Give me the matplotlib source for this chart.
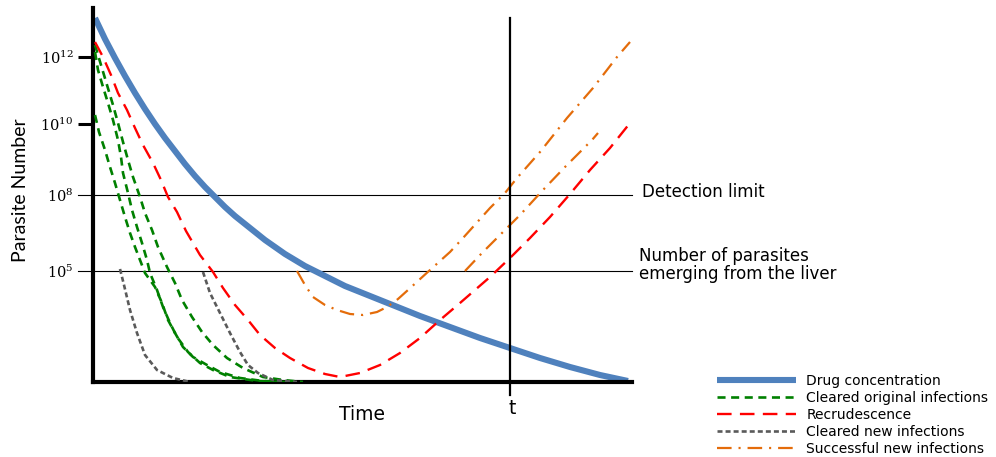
import matplotlib
matplotlib.use("Agg")
import matplotlib.pyplot as plt

plt.rcParams["lines.scale_dashes"] = False
plt.rcParams["mathtext.fontset"] = "dejavuserif"

# Schematic axes: time in arbitrary units, parasite number on a schematic log position scale
tick_pos = [32.5, 25.8, 18.7, 11.1]
tick_labels = [r"$10^{12}$", r"$10^{10}$", r"$10^{8}$", r"$10^{5}$"]
detection_limit = 18.7
liver_emergence = 11.1
t_mark = 41.7

drug_t = [0.2, 1.2, 2.2, 3.2, 4.2, 5.2, 6.2, 7.2, 8.2, 9.2, 10.2, 11.2, 12.2, 13.2, 14.2, 15.2, 16.2, 17.2, 18.2,
          19.2, 20.2, 21.2, 22.2, 23.2, 24.2, 25.2, 26.2, 27.2, 28.2, 29.7, 32.7, 35.7, 38.7, 41.7, 44.7, 47.7,
          50.7, 53.5]
drug_y = [36.4, 34.3, 32.4, 30.6, 28.9, 27.3, 25.8, 24.4, 23.1, 21.8, 20.6, 19.5, 18.5, 17.5, 16.6, 15.8, 15.0,
          14.2, 13.5, 12.8, 12.2, 11.6, 11.1, 10.6, 10.1, 9.6, 9.2, 8.8, 8.4, 7.8, 6.6, 5.5, 4.4, 3.4, 2.4, 1.5,
          0.7, 0.1]

orig1_t = [0.2, 0.6, 1.2, 1.7, 2.2, 2.7, 3.2, 3.7, 4.2, 4.7, 5.2, 6.2, 6.9, 7.5, 8.2, 9.0, 10.0, 11.4, 12.7, 14.7, 17.0, 19.4]
orig1_y = [26.7, 25.0, 23.2, 21.5, 19.9, 18.2, 16.5, 14.9, 13.5, 12.2, 10.9, 9.5, 7.9, 6.2, 4.9, 3.5, 2.5, 1.7, 1.0, 0.4, 0.1, 0.0]

orig2_t = [0.2, 0.5, 1.0, 1.5, 2.0, 2.5, 2.8, 3.0, 3.5, 3.9, 4.4, 4.9, 5.4, 5.7, 6.4, 7.0, 7.7, 8.4, 9.5, 10.7, 12.0, 13.7, 16.4, 19.2]
orig2_y = [33.0, 31.2, 29.5, 27.9, 26.2, 24.2, 22.5, 20.9, 18.9, 17.2, 15.5, 13.9, 12.2, 10.9, 9.2, 7.5, 5.9, 4.5, 3.0, 1.9, 1.2, 0.5, 0.1, 0.0]

orig3_t = [0.2, 0.8, 1.4, 2.0, 2.5, 3.0, 3.5, 4.0, 4.7, 5.2, 5.9, 6.5, 7.4, 8.2, 8.9, 9.9, 10.9, 12.0, 13.4, 15.0, 17.0, 19.0, 21.0]
orig3_y = [33.7, 31.7, 29.7, 27.7, 25.9, 24.0, 22.2, 20.5, 18.5, 16.9, 15.2, 13.5, 11.5, 9.9, 8.2, 6.5, 5.0, 3.7, 2.4, 1.4, 0.5, 0.2, 0.0]

recr_t = [0.2, 1.0, 1.8, 2.5, 3.4, 4.2, 5.0, 6.0, 6.8, 7.5, 8.4, 9.3, 10.7, 12.0, 13.0, 14.2, 15.5, 16.7, 18.2,
          19.7, 21.5, 23.2, 24.7, 26.7, 28.7, 30.7, 32.7, 34.7, 36.7, 39.7, 41.7, 43.7, 45.7, 47.7, 49.7, 51.7, 53.7]
recr_y = [34.0, 32.5, 30.7, 28.9, 27.2, 25.4, 23.7, 21.9, 20.2, 18.5, 17.0, 15.1, 12.7, 11.0, 9.4, 7.7, 6.2, 4.7, 3.4,
          2.4, 1.4, 0.8, 0.5, 0.9, 1.7, 2.9, 4.4, 6.2, 7.9, 10.5, 12.4, 14.4, 16.5, 18.8, 21.2, 23.4, 25.9]

new1_t = [2.7, 3.1, 3.7, 4.4, 5.2, 6.4, 8.0, 9.7]
new1_y = [11.3, 9.7, 7.2, 4.9, 2.7, 1.2, 0.4, 0.0]

new2_t = [11.0, 11.7, 12.7, 13.7, 14.7, 15.5, 16.5, 18.0, 20.4]
new2_y = [11.0, 8.9, 6.9, 4.9, 3.0, 1.7, 0.9, 0.2, 0.0]

succ1_t = [20.4, 21.2, 22.0, 23.2, 24.4, 25.7, 27.0, 28.4, 29.4, 30.5, 31.5, 33.7, 35.7, 37.0, 39.7, 41.2, 42.4, 44.7, 47.4, 50.0, 52.4, 53.7]
succ1_y = [11.1, 9.7, 8.5, 7.7, 7.2, 6.8, 6.7, 7.0, 7.5, 8.3, 9.2, 11.2, 13.0, 14.4, 17.4, 18.9, 20.4, 23.0, 26.4, 29.4, 32.5, 34.0]

succ2_t = [37.2, 38.9, 40.7, 42.7, 45.0, 47.2, 49.9, 50.5]
succ2_y = [11.1, 12.9, 14.7, 16.7, 19.2, 21.5, 24.2, 24.9]

blue = "#4F81BD"
green = "#008000"
red = "#FF0000"
grey = "#5A5A5A"
orange = "#E46C0A"

fig = plt.figure(figsize=(9.96, 4.57), dpi=100)
ax = fig.add_axes([93 / 996, 75 / 457, 539 / 996, 374 / 457])
ax.set_xlim(0, 53.9)
ax.set_ylim(0, 37.4)

# reference levels and the time marker
for lvl in (detection_limit, liver_emergence):
    ax.plot([-1.5, 53.9], [lvl, lvl], color="black", lw=0.8, clip_on=False, zorder=1)
ax.plot([t_mark, t_mark], [-1.3, 36.4], color="black", lw=1.6, clip_on=False, zorder=6)

h_drug, = ax.plot(drug_t, drug_y, color=blue, lw=4.4, solid_capstyle="butt",
                  solid_joinstyle="round", zorder=2, label="Drug concentration")
h_orig = None
for tt, yy in ((orig1_t, orig1_y), (orig2_t, orig2_y), (orig3_t, orig3_y)):
    h_orig, = ax.plot(tt, yy, color=green, lw=1.9, dashes=(5.8, 4.0), zorder=3,
                      label="Cleared original infections")
h_recr, = ax.plot(recr_t, recr_y, color=red, lw=1.7, dashes=(10.5, 6.0), zorder=4,
                  label="Recrudescence")
h_new = None
for tt, yy in ((new1_t, new1_y), (new2_t, new2_y)):
    h_new, = ax.plot(tt, yy, color=grey, lw=1.9, dashes=(3.6, 2.2), zorder=3,
                     label="Cleared new infections")
h_succ = None
for tt, yy in ((succ1_t, succ1_y), (succ2_t, succ2_y)):
    h_succ, = ax.plot(tt, yy, color=orange, lw=1.6, dashes=(10.5, 5.0, 1.5, 5.0), zorder=4,
                      label="Successful new infections")

for side in ("top", "right"):
    ax.spines[side].set_visible(False)
for side in ("left", "bottom"):
    ax.spines[side].set_linewidth(3.0)
    ax.spines[side].set_color("black")
    ax.spines[side].set_capstyle("projecting")

ax.set_xticks([])
ax.set_yticks(tick_pos)
ax.set_yticklabels(tick_labels, fontsize=10.5)
ax.tick_params(axis="y", length=11, width=2.2, pad=3, color="black")
for i, tk in enumerate(ax.yaxis.get_major_ticks()):
    if i >= 2:
        tk.tick1line.set_visible(False)

fig.text(20 / 996, 1 - 190 / 457, "Parasite Number", rotation=90, ha="center", va="center",
         fontsize=14, family="Lato")
fig.text(362 / 996, 1 - 414 / 457, "Time", ha="center", va="center", fontsize=13.5,
         family="DejaVu Sans")
fig.text(512 / 996, 1 - 409 / 457, "t", ha="center", va="center", fontsize=13.5,
         family="DejaVu Sans")

fig.text(642 / 996, 1 - 192 / 457, "Detection limit", ha="left", va="center",
         fontsize=12, family="DejaVu Sans")
fig.text(639 / 996, 1 - 265 / 457, "Number of parasites\nemerging from the liver", ha="left",
         va="center", fontsize=12, family="DejaVu Sans", linespacing=1.0)

fig.legend(handles=[h_drug, h_orig, h_recr, h_new, h_succ], loc="upper left",
           bbox_to_anchor=(717 / 996, 1 - 374 / 457), frameon=False,
           prop={"family": "DejaVu Sans", "size": 10}, handlelength=5.7, handletextpad=0.72,
           labelspacing=0.22, borderpad=0, borderaxespad=0)

fig.savefig("out.png", dpi=100)
